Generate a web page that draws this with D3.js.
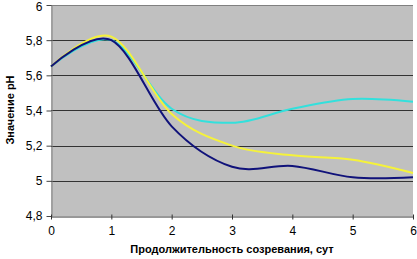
<!DOCTYPE html>
<html>
<head>
<meta charset="utf-8">
<script src="https://cdn.jsdelivr.net/npm/d3@7"></script>
<style>
body { margin: 0; background: #fff; }
text { font-family: "Liberation Sans", Arial, sans-serif; }
</style>
</head>
<body>
<script>
// days of ripening
let days = [0, 1, 2, 3, 4, 5, 6];
// pH series
let navy = [5.65, 5.80, 5.31, 5.08, 5.085, 5.02, 5.02];
let yellow = [5.65, 5.82, 5.38, 5.20, 5.145, 5.12, 5.045];
let cyan = [5.65, 5.80, 5.41, 5.33, 5.41, 5.465, 5.45];
let yTicks = [4.8, 5, 5.2, 5.4, 5.6, 5.8, 6];
let xTicks = [0, 1, 2, 3, 4, 5, 6];

let W = 417, H = 259;
let svg = d3.select('body').append('svg')
    .attr('width', W)
    .attr('height', H);

let x = d3.scaleLinear().domain([0, 6]).range([51, 413]);
let y = d3.scaleLinear().domain([4.8, 6]).range([216, 5]);
let fmt = d => String(d).replace('.', ',');

// plot area
svg.append('rect')
    .attr('x', x(0)).attr('y', y(6))
    .attr('width', x(6) - x(0)).attr('height', y(4.8) - y(6))
    .attr('fill', '#c0c0c0');

// gridlines
svg.selectAll('.grid')
    .data(yTicks.filter(d => d > 4.8))
    .enter().append('line')
        .attr('x1', x(0)).attr('x2', x(6))
        .attr('y1', d => Math.round(y(d)) + 0.5)
        .attr('y2', d => Math.round(y(d)) + 0.5)
        .attr('stroke', d => d == 6 ? '#808080' : '#333')
        .attr('stroke-width', 1);

// y axis
let yAxis = svg.append('g')
    .attr('transform', 'translate(' + (x(0) + 0.5) + ',0)')
    .call(d3.axisLeft(y).tickValues(yTicks).tickFormat(fmt).tickSize(5).tickSizeOuter(0));
yAxis.select('.domain').attr('stroke', '#808080');
yAxis.selectAll('.tick line').attr('stroke', '#444');
yAxis.selectAll('text').attr('font-size', 12).attr('fill', '#000').attr('x', -9)
    .attr('y', d => d == 6 ? 2 : 0);

// x axis
let xAxis = svg.append('g')
    .attr('transform', 'translate(0,' + (Math.round(y(4.8)) + 0.5) + ')')
    .call(d3.axisBottom(x).tickValues(xTicks).tickFormat(d3.format('d')).tickSize(3).tickSizeOuter(0));
xAxis.select('.domain').attr('stroke', '#333');
xAxis.selectAll('.tick line').attr('stroke', '#333').attr('y1', -2);
xAxis.selectAll('text').attr('font-size', 12).attr('fill', '#000').attr('y', 10);

// lines
let line = d3.line()
    .x((d, i) => x(days[i]))
    .y(d => y(d))
    .curve(d3.curveCatmullRom.alpha(0));

let series = [
    { vals: cyan, color: '#33e0dc' },
    { vals: yellow, color: '#f5f23a' },
    { vals: navy, color: '#10127a' }
];
series.forEach(function(s) {
    svg.append('path')
        .attr('d', line(s.vals))
        .attr('fill', 'none')
        .attr('stroke', s.color)
        .attr('stroke-width', 2);
});

// titles
svg.append('text')
    .attr('x', 232).attr('y', 253)
    .attr('text-anchor', 'middle')
    .attr('font-size', 11).attr('font-weight', 'bold')
    .text('Продолжительность созревания, сут');

svg.append('text')
    .attr('transform', 'translate(14,110) rotate(-90)')
    .attr('text-anchor', 'middle')
    .attr('font-size', 11).attr('font-weight', 'bold')
    .text('Значение pH');
</script>
</body>
</html>
